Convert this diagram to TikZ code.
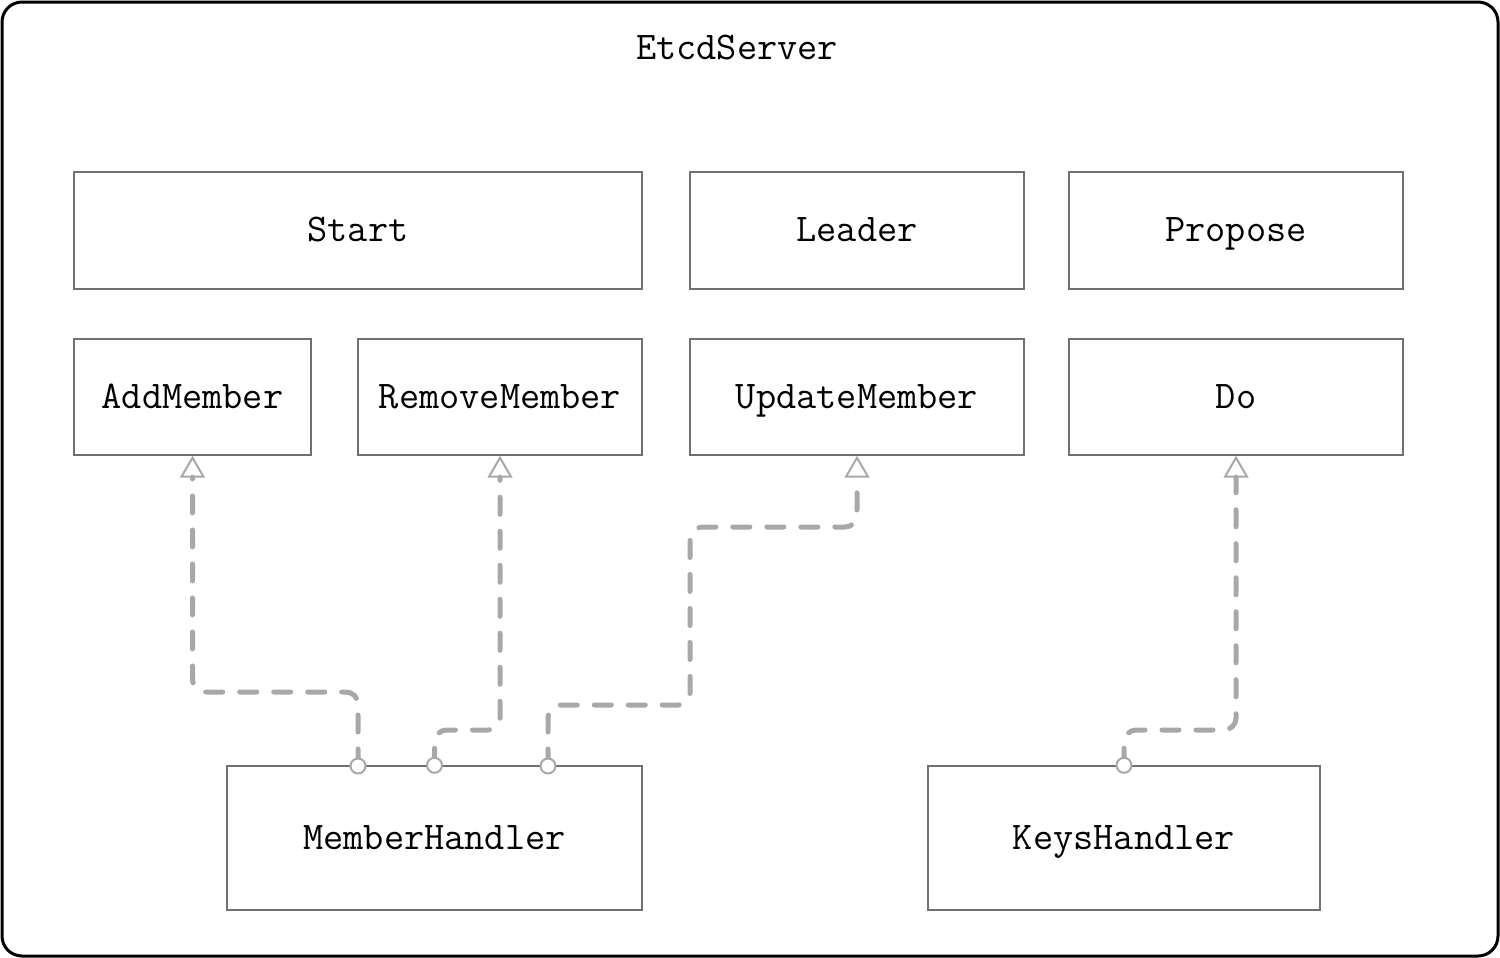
\documentclass[tikz,border=0pt]{standalone}
\usetikzlibrary{arrows.meta}
\definecolor{boxline}{HTML}{707070}
\definecolor{conn}{HTML}{A8A8A8}
\begin{document}
\begin{tikzpicture}[x=0.5pt,y=-0.5pt,
  lbl/.style={font=\fontsize{19.6}{22}\selectfont\ttfamily,text height=13pt,text depth=2pt},
  opbox/.style={lbl,draw=boxline,line width=0.7pt,inner sep=0pt,anchor=center},
  depline/.style={draw=conn,line width=2.5pt,line cap=round,dash pattern=on 8.5pt off 8.5pt,rounded corners=6pt,
     -{Triangle[open,length=11pt,width=12.5pt,line width=1pt]}},
  port/.style={circle,draw=conn,fill=white,line width=1pt,minimum size=7.5pt,inner sep=0pt}]
\useasboundingbox (0,0) rectangle (1500,958);
\draw[line width=1.5pt,rounded corners=10pt] (2,2) rectangle (1498,956);
\node[lbl] (title) at (737,48) {EtcdServer};
% boxes
\node[opbox,minimum width=284pt,minimum height=58.5pt] (start) at (358,230.5) {Start};
\node[opbox,minimum width=167pt,minimum height=58.5pt] (leader) at (857,230.5) {Leader};
\node[opbox,minimum width=167pt,minimum height=58.5pt] (propose) at (1236,230.5) {Propose};
\node[opbox,minimum width=118.5pt,minimum height=58pt] (add) at (192.5,397) {AddMember};
\node[opbox,minimum width=142pt,minimum height=58pt] (remove) at (500,397) {RemoveMember};
\node[opbox,minimum width=167pt,minimum height=58pt] (update) at (857,397) {UpdateMember};
\node[opbox,minimum width=167pt,minimum height=58pt] (do) at (1236,397) {Do};
\node[opbox,minimum width=207.5pt,minimum height=72pt] (mh) at (434.5,838) {MemberHandler};
\node[opbox,minimum width=196pt,minimum height=72pt] (kh) at (1124,838) {KeysHandler};
% ports
\coordinate (s1) at (358,766);
\coordinate (s3) at (548,766);
% connectors
\draw[depline] (s1) -- (358,692) -- (192.5,692) -- (add.south);
\draw[depline] (mh.north) -- (434.5,730) -- (500,730) -- (remove.south);
\draw[depline] (s3) -- (548,705) -- (690,705) -- (690,527) -- (857,527) -- (update.south);
\draw[depline] (kh.north) -- (1124,730) -- (1236,730) -- (do.south);
\node[port] at (s1) {};
\node[port] at (mh.north) {};
\node[port] at (s3) {};
\node[port] at (kh.north) {};
\end{tikzpicture}
\end{document}
